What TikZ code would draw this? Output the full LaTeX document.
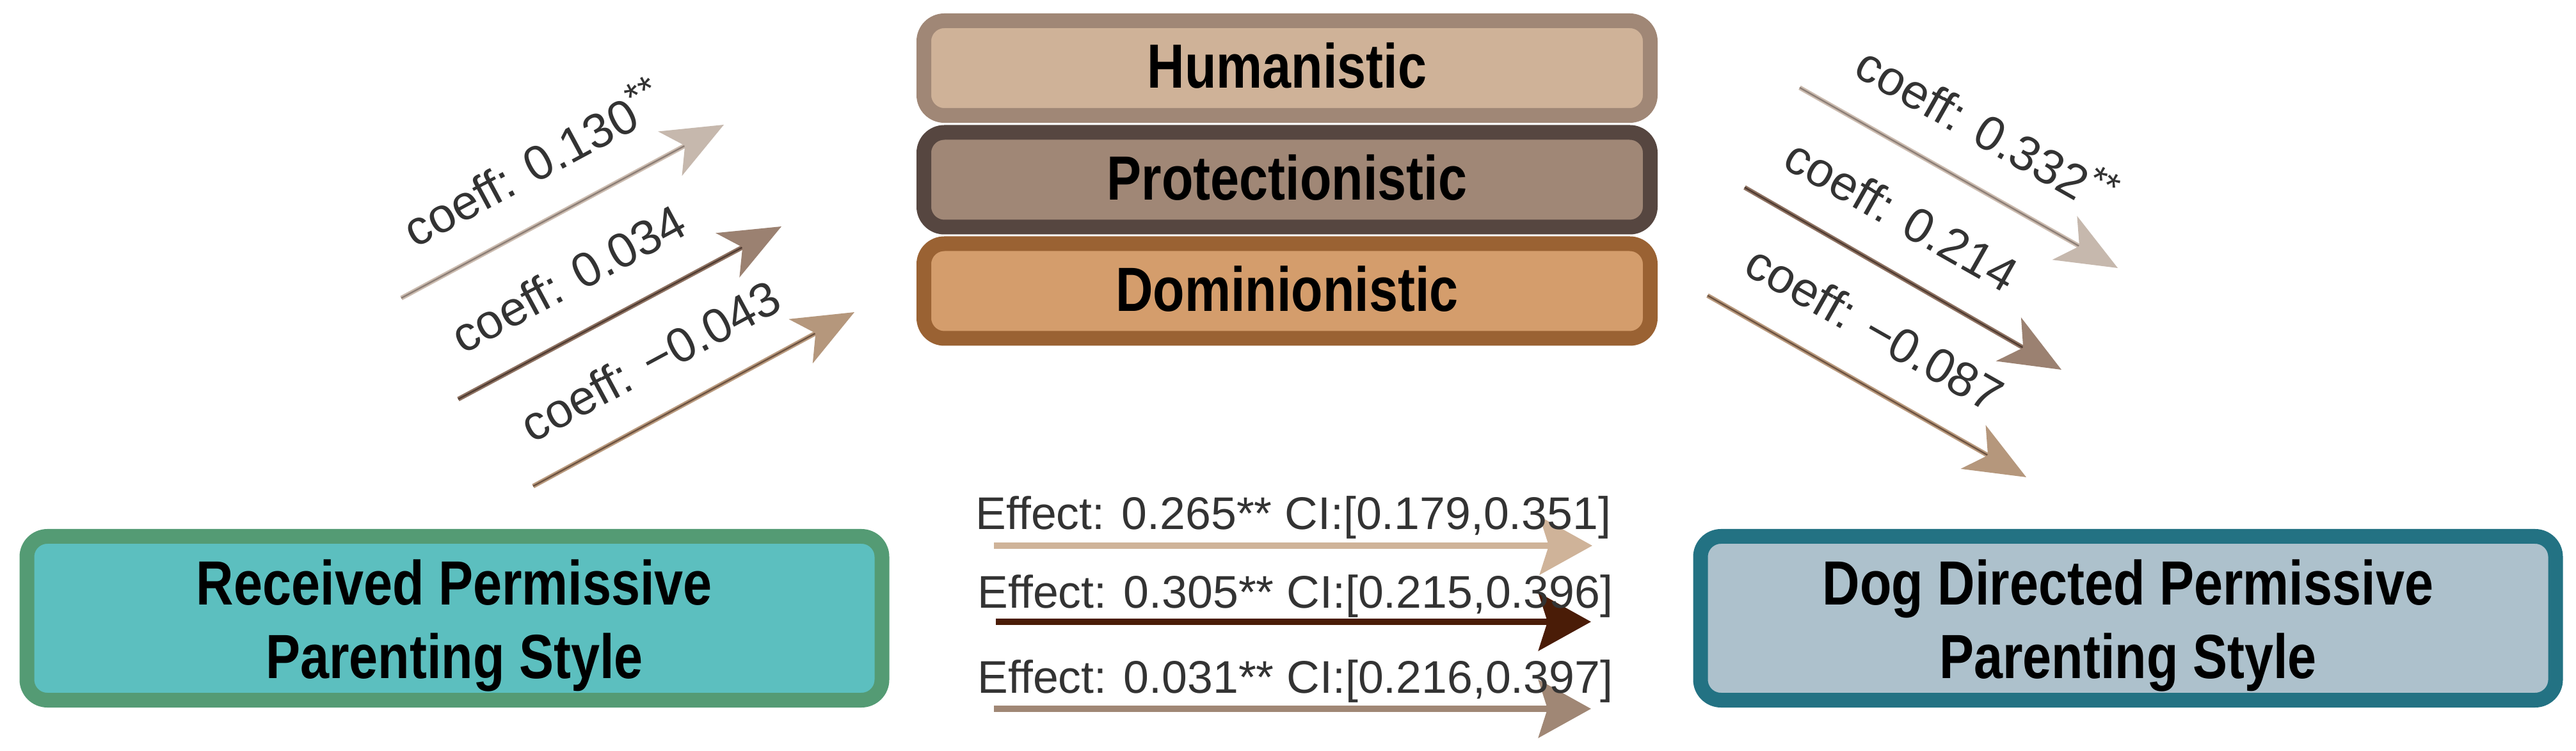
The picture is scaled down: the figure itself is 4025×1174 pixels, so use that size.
\documentclass[tikz,border=0pt]{standalone}
\usepackage{fontspec}
\setmainfont{Liberation Sans}
\newfontfamily\boxfont[FakeStretch=0.83]{Liberation Sans}
\usetikzlibrary{arrows.meta,calc}
\definecolor{humfill}{HTML}{CFB298}
\definecolor{humborder}{HTML}{A08776}
\definecolor{profill}{HTML}{A08776}
\definecolor{proborder}{HTML}{564640}
\definecolor{domfill}{HTML}{D49D6C}
\definecolor{domborder}{HTML}{9A6233}
\definecolor{recfill}{HTML}{5CBFBF}
\definecolor{recborder}{HTML}{549B74}
\definecolor{dogfill}{HTML}{ADC1CC}
\definecolor{dogborder}{HTML}{237283}
\definecolor{txtgray}{HTML}{333333}
\definecolor{aline}{HTML}{CBBBAF}
\definecolor{acore}{HTML}{8C7E76}
\definecolor{ahead}{HTML}{C6B8AD}
\definecolor{bline}{HTML}{8E7262}
\definecolor{bcore}{HTML}{4F3B31}
\definecolor{bhead}{HTML}{9B8171}
\definecolor{cline}{HTML}{B99A7E}
\definecolor{ccore}{HTML}{6C5240}
\definecolor{chead}{HTML}{B5977C}
\definecolor{eone}{HTML}{CFB399}
\definecolor{etwo}{HTML}{4A1C07}
\definecolor{ethree}{HTML}{A08775}
\begin{document}
\begin{tikzpicture}[x=0.25pt,y=-0.25pt,
  boxbase/.style={line width=5.75pt, rounded corners=8pt, inner sep=0pt, outer sep=0pt, text=black,
    font=\boxfont\bfseries\fontsize{24.4pt}{28.75pt}\selectfont},
  topbox/.style={boxbase, minimum width=283.75pt, minimum height=37pt, text height=17pt, text depth=1.25pt},
  bigbox/.style={boxbase, minimum width=334pt, minimum height=64pt, align=center},
  coef/.style={text=txtgray, font=\fontsize{19pt}{22pt}\selectfont, inner sep=0pt, anchor=base},
  efflab/.style={text=txtgray, font=\fontsize{17.9pt}{21pt}\selectfont, inner sep=0pt, anchor=base},
  diag/.style n args={3}{line width=1.8pt, draw=#1,
    -{Stealth[length=23.75pt,width=19.5pt,inset=6.5pt,color=#3]},
    postaction={draw=#2, line width=0.6pt, -, shorten >=17.5pt}},
  effarrow/.style={line width=2.5pt, draw=#1, -{Stealth[length=20.5pt,width=22.5pt,inset=3.5pt]}}
]
\fill[white] (0,0) rectangle (4025,1174);
\useasboundingbox (0,0) rectangle (4025,1174);

% top boxes
\node[topbox, draw=humborder, fill=humfill] (hum) at (2011,106.5) {Humanistic};
\node[topbox, draw=proborder, fill=profill] (pro) at (2011,281) {Protectionistic};
\node[topbox, draw=domborder, fill=domfill] (dom) at (2011,455) {Dominionistic};

% bottom boxes
\node[bigbox, draw=recborder, fill=recfill] (rec) at (710,966.5)
  {\rule{0pt}{24.25pt}Received Permissive\\Parenting Style\rule[-6pt]{0pt}{6pt}};
\node[bigbox, draw=dogborder, fill=dogfill] (dog) at (3325,966.5)
  {\rule{0pt}{24.25pt}Dog Directed Permissive\\Parenting Style\rule[-6pt]{0pt}{6pt}};

% left diagonal arrows
\coordinate (l1s) at (627,466);  \coordinate (l1e) at (1131,195);
\coordinate (l2s) at (716,624);  \coordinate (l2e) at (1221,354);
\coordinate (l3s) at (833,760);  \coordinate (l3e) at (1335,488);
\draw[diag={aline}{acore}{ahead}] (l1s) -- (l1e);
\draw[diag={bline}{bcore}{bhead}] (l2s) -- (l2e);
\draw[diag={cline}{ccore}{chead}] (l3s) -- (l3e);

% right diagonal arrows
\coordinate (r1s) at (2812,137); \coordinate (r1e) at (3309,419);
\coordinate (r2s) at (2726,293); \coordinate (r2e) at (3221,578);
\coordinate (r3s) at (2668,462); \coordinate (r3e) at (3166,746);
\draw[diag={aline}{acore}{ahead}] (r1s) -- (r1e);
\draw[diag={bline}{bcore}{bhead}] (r2s) -- (r2e);
\draw[diag={cline}{ccore}{chead}] (r3s) -- (r3e);

% effect arrows
\coordinate (e1s) at (1553,853);  \coordinate (e1e) at (2488,853);
\coordinate (e2s) at (1556,972);  \coordinate (e2e) at (2486,972);
\coordinate (e3s) at (1553,1108); \coordinate (e3e) at (2486,1108);
\draw[effarrow=eone] (e1s) -- (e1e);
\draw[effarrow=etwo] (e2s) -- (e2e);
\draw[effarrow=ethree] (e3s) -- (e3e);

% diagonal labels
\coordinate (l1m) at ($(l1s)!0.49!(l1e)$);
\coordinate (l2m) at ($(l2s)!0.42!(l2e)$);
\coordinate (l3m) at ($(l3s)!0.445!(l3e)$);
\coordinate (r1m) at ($(r1s)!0.50!(r1e)$);
\coordinate (r2m) at ($(r2s)!0.41!(r2e)$);
\coordinate (r3m) at ($(r3s)!0.44!(r3e)$);
\node[coef, rotate=28.27] (l1t) at ($(l1m)!14.5pt!90:(l1e)$) {coeff: 0.130\raisebox{0.35em}{\fontsize{15pt}{15pt}\selectfont **}};
\node[coef, rotate=28.27] (l2t) at ($(l2m)!14.5pt!90:(l2e)$) {coeff: 0.034};
\node[coef, rotate=28.27] (l3t) at ($(l3m)!14.5pt!90:(l3e)$) {coeff: −0.043};
\node[coef, rotate=-29.57] (r1t) at ($(r1m)!14.5pt!90:(r1e)$) {coeff: 0.332\raisebox{0.35em}{\fontsize{15pt}{15pt}\selectfont **}};
\node[coef, rotate=-29.57] (r2t) at ($(r2m)!14.5pt!90:(r2e)$) {coeff: 0.214};
\node[coef, rotate=-29.57] (r3t) at ($(r3m)!14.5pt!90:(r3e)$) {coeff: −0.087};

% effect labels
\node[efflab] (t1) at (2021,828) {Effect: 0.265** CI:[0.179,0.351]};
\node[efflab] (t2) at (2024,950) {Effect: 0.305** CI:[0.215,0.396]};
\node[efflab] (t3) at (2024,1083) {Effect: 0.031** CI:[0.216,0.397]};
\end{tikzpicture}
\end{document}
